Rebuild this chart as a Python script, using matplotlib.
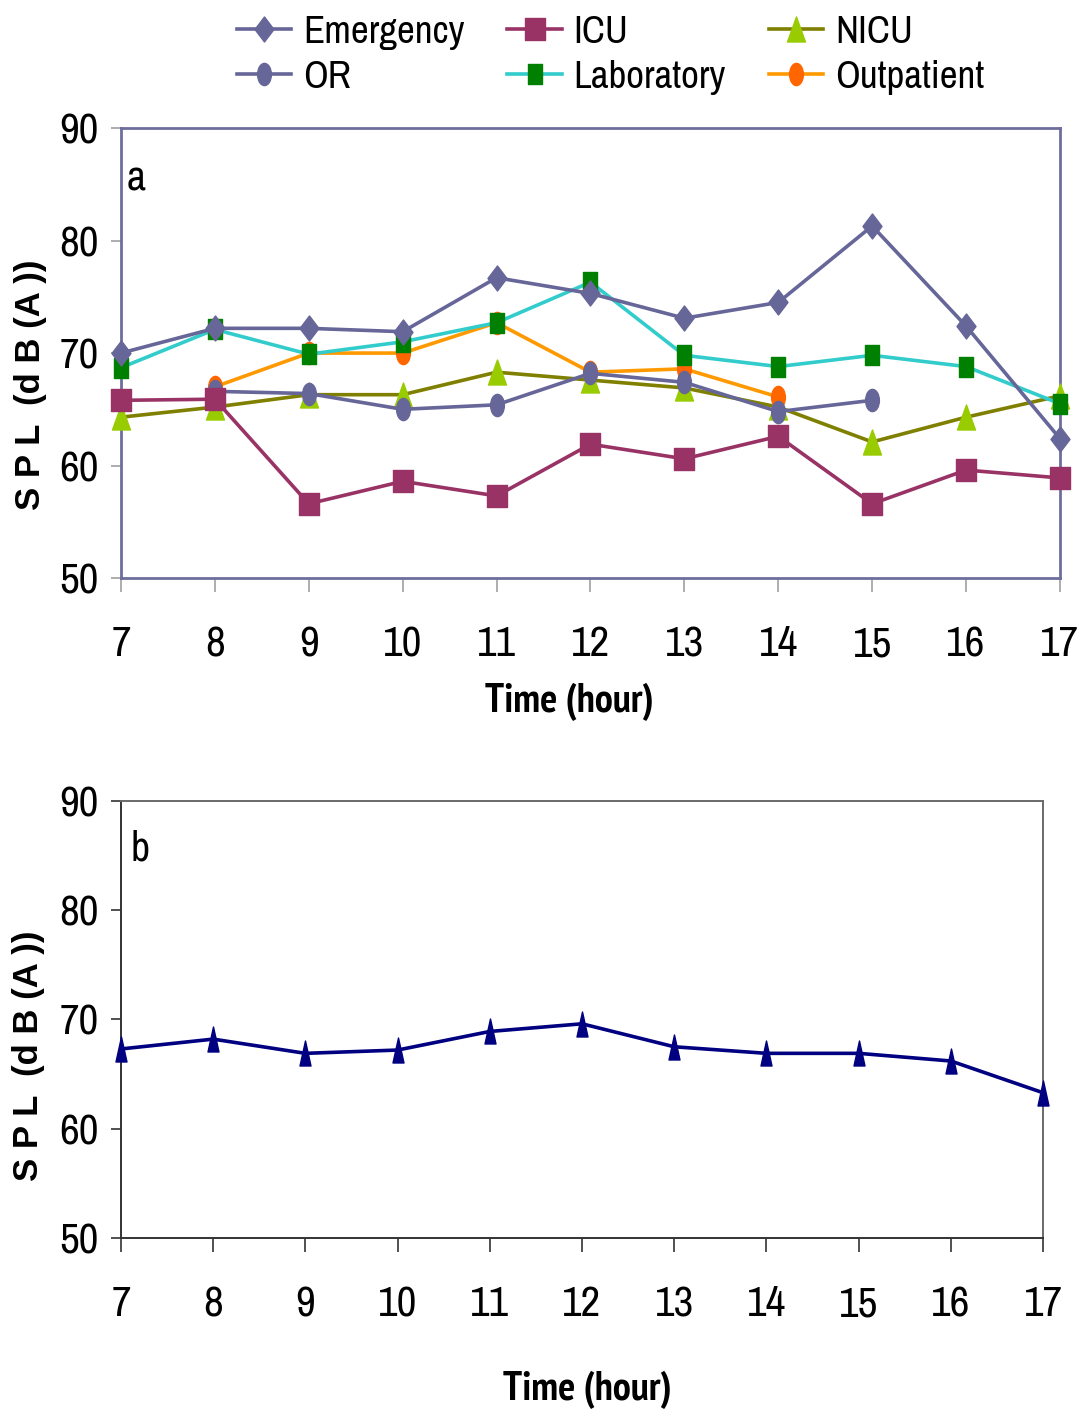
import matplotlib
matplotlib.use("Agg")
import matplotlib.pyplot as plt
from matplotlib import font_manager as fm
from matplotlib.path import Path
from matplotlib.transforms import Affine2D

# pick a narrow sans face if one is around (and one with a bold cut for axis titles)
narrow_pref = ["Liberation Sans Narrow", "Arial Narrow", "Archivo Narrow", "PT Sans Narrow",
               "Roboto Condensed", "Pragati Narrow", "Open Sans Condensed"]
faces = [(f.name, f.weight) for f in fm.fontManager.ttflist]
have = {n for n, _ in faces}
bold_ok = {n for n, w in faces if str(w) in ("700", "bold", "800", "600")}
narrow = next((n for n in narrow_pref if n in have), "Liberation Sans")
narrow_bold = next((n for n in narrow_pref if n in bold_ok), "Liberation Sans")
plt.rcParams["font.family"] = [narrow, "Liberation Sans", "DejaVu Sans"]

# Hour of day
hours = [7, 8, 9, 10, 11, 12, 13, 14, 15, 16, 17]

# Panel a: SPL per ward (dB(A))
emergency = [70.0, 72.2, 72.2, 71.9, 76.7, 75.3, 73.1, 74.5, 81.3, 72.4, 62.4]
icu = [65.8, 65.9, 56.6, 58.6, 57.3, 61.9, 60.6, 62.6, 56.6, 59.6, 58.9]
nicu = [64.3, 65.2, 66.3, 66.3, 68.3, 67.6, 66.9, 65.2, 62.1, 64.3, 66.2]
or_hours = [8, 9, 10, 11, 12, 13, 14, 15]
or_room = [66.6, 66.4, 65.0, 65.4, 68.2, 67.4, 64.8, 65.8]
laboratory = [68.7, 72.1, 69.9, 71.0, 72.7, 76.3, 69.8, 68.8, 69.8, 68.8, 65.5]
out_hours = [8, 9, 10, 11, 12, 13, 14]
outpatient = [67.0, 70.0, 70.0, 72.7, 68.3, 68.6, 66.1]

# Panel b: overall mean
overall = [67.3, 68.2, 66.9, 67.2, 68.9, 69.6, 67.5, 66.9, 66.9, 66.2, 63.3]

# narrow marker shapes
diamond = Path([(0, -0.5), (0.38, 0), (0, 0.5), (-0.38, 0), (0, -0.5)],
               [1, 2, 2, 2, 79])
tall_tri = Path([(-0.36, -0.5), (0.36, -0.5), (0, 0.5), (-0.36, -0.5)], [1, 2, 2, 79])
thin_tri = Path([(-0.22, -0.5), (0.22, -0.5), (0, 0.5), (-0.22, -0.5)], [1, 2, 2, 79])
rect = Path([(-0.33, -0.5), (0.33, -0.5), (0.33, 0.5), (-0.33, 0.5), (-0.33, -0.5)],
            [1, 2, 2, 2, 79])
square = Path([(-0.45, -0.5), (0.45, -0.5), (0.45, 0.5), (-0.45, 0.5), (-0.45, -0.5)],
              [1, 2, 2, 2, 79])
ellipse = Path.unit_circle().transformed(Affine2D().scale(0.62, 1.0))

fig = plt.figure(figsize=(10.84, 14.14), dpi=100)
ax1 = fig.add_axes([0.1116, 0.5912, 0.8662, 0.3182])
ax2 = fig.add_axes([0.1116, 0.1243, 0.8506, 0.3095])

lw = 2.6
series = [
    ("Emergency", hours, emergency, "#666699", "#666699", diamond, 18),
    ("OR", or_hours, or_room, "#666699", "#666699", ellipse, 16),
    ("ICU", hours, icu, "#993366", "#993366", square, 16),
    ("Laboratory", hours, laboratory, "#33CCCC", "#008000", rect, 15),
    ("NICU", hours, nicu, "#808000", "#99CC00", tall_tri, 18),
    ("Outpatient", out_hours, outpatient, "#FF9900", "#FF6600", ellipse, 16),
]
draw_order = ["NICU", "Outpatient", "OR", "ICU", "Laboratory", "Emergency"]
handles = {}
for name in draw_order:
    _, xs, ys, lc, mc, mk, ms = next(s for s in series if s[0] == name)
    ln, = ax1.plot(xs, ys, color=lc, lw=lw, marker=mk, ms=ms,
                   mfc=mc, mec=mc, label=name, clip_on=False, zorder=3)
    handles[name] = ln

ax2.plot(hours, overall, color="#000080", lw=2.6, marker=thin_tri, ms=18,
         mfc="#000080", mec="#000080", clip_on=False, zorder=3)

for ax in (ax1, ax2):
    ax.set_xlim(7, 17)
    ax.set_ylim(50, 90)
    ax.set_xticks(hours)
    ax.set_yticks([50, 60, 70, 80, 90])
    ax.tick_params(axis="x", direction="out", length=10, pad=24, labelsize=31)
    ax.tick_params(axis="y", direction="out", length=7, pad=9, labelsize=31)

for sp in ax1.spines.values():
    sp.set_color("#6E6E9E")
    sp.set_linewidth(2.0)
ax1.tick_params(colors="#A0A0A0", labelcolor="black", width=1.2)

ax2.spines["left"].set_color("#333333")
ax2.spines["bottom"].set_color("#333333")
ax2.spines["top"].set_color("#6A6A6A")
ax2.spines["right"].set_color("#6A6A6A")
for sp in ax2.spines.values():
    sp.set_linewidth(1.4)
ax2.tick_params(colors="#333333", labelcolor="black", width=1.2)

ylab = "S P L  (d B (A ))"
ax1.set_ylabel(ylab, family=["Liberation Sans", "DejaVu Sans"], fontweight="bold", fontsize=25)
ax1.yaxis.set_label_coords(-0.079, 0.43)
ax2.set_ylabel(ylab, family=["Liberation Sans", "DejaVu Sans"], fontweight="bold", fontsize=25)
ax2.yaxis.set_label_coords(-0.082, 0.418)

xfam = [narrow_bold, "Liberation Sans", "DejaVu Sans"]
ax1.set_xlabel("Time (hour)", family=xfam, fontweight="bold", fontsize=29)
ax1.xaxis.set_label_coords(0.478, -0.276)
ax1.xaxis.label.set_va("center")
ax2.set_xlabel("Time (hour)", family=xfam, fontweight="bold", fontsize=29)
ax2.xaxis.set_label_coords(0.506, -0.347)
ax2.xaxis.label.set_va("center")

ax1.text(0.006, 0.889, "a", transform=ax1.transAxes, fontsize=30, va="center", ha="left")
ax2.text(0.01, 0.891, "b", transform=ax2.transAxes, fontsize=30, va="center", ha="left")

leg_order = ["Emergency", "OR", "ICU", "Laboratory", "NICU", "Outpatient"]
fig.legend([handles[n] for n in leg_order], leg_order, ncol=3, loc="upper left",
           bbox_to_anchor=(237 / 1084, 1 - 15 / 1414), frameon=False, fontsize=28,
           handlelength=1.4, handletextpad=0.3, columnspacing=1.1,
           labelspacing=0.25, borderpad=0, borderaxespad=0)

fig.savefig("out.png", dpi=100)
